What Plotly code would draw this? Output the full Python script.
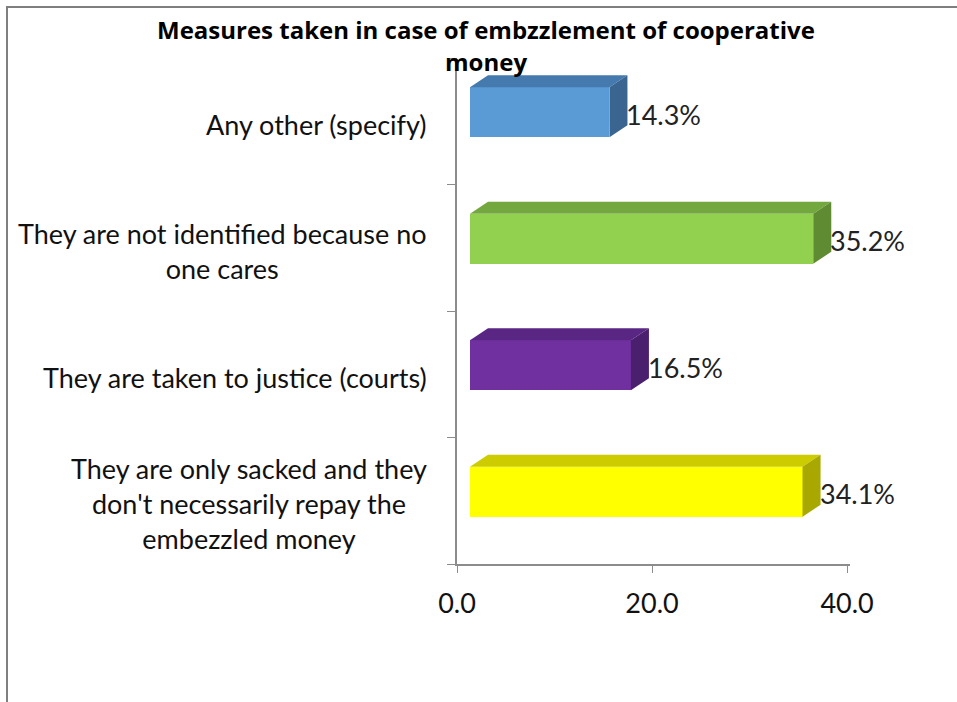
import plotly.graph_objects as go

# Survey responses, listed bottom-to-top as drawn on the category axis
categories = [
    "They are only sacked and they<br>don't necessarily repay the<br>embezzled money",
    "They are taken to justice (courts)",
    "They are not identified because no<br>one cares",
    "Any other (specify)",
]
values = [34.1, 16.5, 35.2, 14.3]
x_ticks = [0, 20, 40]
x_tick_labels = ["0.0", "20.0", "40.0"]
title_lines = ["Measures taken in case of embzzlement of cooperative", "money"]

front_colors = ["#FFFF00", "#7030A0", "#92D050", "#5B9BD5"]
top_colors = ["#CCCC00", "#5A2684", "#73A83E", "#457AAE"]
side_colors = ["#A8A800", "#4A1F6E", "#5F8C32", "#3A6591"]

FONT = "Lato"
TITLE_FONT = "Open Sans"
AXIS_GREY = "#8C8C8C"

# plot area in pixels
W, H = 957, 702
L, R, T, B = 457, 107, 58, 138
PLOT_H = H - T - B

# pseudo-3D bar geometry (data units)
X_OFF = 1.33      # gap between the wall and the bar front
DEPTH_X = 1.85    # depth of the bar, horizontal
DEPTH_Y = 0.095   # depth of the bar, vertical
BAR_H = 0.395     # thickness of the bar front
BAR_LIFT = 0.071  # bar front sits slightly above the category centre

positions = list(range(len(categories)))

fig = go.Figure()

for i, (pos, v) in enumerate(zip(positions, values)):
    x0 = X_OFF
    x1 = X_OFF + v
    yc = pos + BAR_LIFT
    yb = yc - BAR_H / 2
    yt = yc + BAR_H / 2
    # top face
    fig.add_trace(go.Scatter(
        x=[x0, x0 + DEPTH_X, x1 + DEPTH_X, x1, x0],
        y=[yt, yt + DEPTH_Y, yt + DEPTH_Y, yt, yt],
        fill="toself", fillcolor=top_colors[i], mode="lines",
        line=dict(width=0), hoverinfo="skip", showlegend=False,
    ))
    # side face
    fig.add_trace(go.Scatter(
        x=[x1, x1, x1 + DEPTH_X, x1 + DEPTH_X, x1],
        y=[yb, yt, yt + DEPTH_Y, yb + DEPTH_Y, yb],
        fill="toself", fillcolor=side_colors[i], mode="lines",
        line=dict(width=0), hoverinfo="skip", showlegend=False,
    ))

# front faces
fig.add_trace(go.Bar(
    x=values, y=[p + BAR_LIFT for p in positions], base=X_OFF,
    orientation="h", width=BAR_H,
    marker=dict(color=front_colors, line=dict(width=0)),
    showlegend=False, hoverinfo="x",
))

annotations = []
# value labels
for pos, v in zip(positions, values):
    annotations.append(dict(
        x=X_OFF + v + DEPTH_X, y=pos + BAR_LIFT, xref="x", yref="y",
        text=f"{v:.1f}%", showarrow=False, xanchor="left", yanchor="middle",
        xshift=-3, yshift=-2, font=dict(family=FONT, size=27, color="#222222"),
    ))
# category labels: block right-aligned, lines centred
for pos, cat in zip(positions, categories):
    annotations.append(dict(
        x=0, y=pos, xref="paper", yref="y", text=cat, showarrow=False,
        xanchor="right", yanchor="middle", align="center", xshift=-28,
        yshift=-3, font=dict(family=FONT, size=27, color="#111111"),
    ))
# two-line bold title, tightly spaced
for line, py in zip(title_lines, [29, 62]):
    annotations.append(dict(
        x=(486 - L) / (W - L - R), y=(H - B - py) / PLOT_H,
        xref="paper", yref="paper", text=f"<b>{line}</b>", showarrow=False,
        xanchor="center", yanchor="middle",
        font=dict(family=TITLE_FONT, size=24, color="#000000"),
    ))

fig.update_layout(
    width=W, height=H,
    margin=dict(l=L, r=R, t=T, b=B),
    paper_bgcolor="white", plot_bgcolor="white",
    annotations=annotations,
    bargap=0,
    xaxis=dict(
        range=[0, 40.3], tickvals=x_ticks, ticktext=x_tick_labels,
        showgrid=False, zeroline=False, showline=True, linecolor=AXIS_GREY,
        linewidth=2, ticks="outside", ticklen=7, tickcolor=AXIS_GREY,
        tickwidth=1, ticklabelstandoff=8,
        tickfont=dict(family=FONT, size=27, color="#111111"),
        fixedrange=True,
    ),
    yaxis=dict(
        range=[-0.5, 3.5], showticklabels=False, showgrid=False,
        zeroline=False, showline=True, linecolor=AXIS_GREY, linewidth=2,
        ticks="", tickvals=positions,
        minor=dict(tickvals=[-0.5, 0.5, 1.5, 2.5, 3.5], ticks="outside",
                   ticklen=8, tickcolor=AXIS_GREY, tickwidth=1,
                   showgrid=False),
        fixedrange=True,
    ),
    shapes=[dict(
        type="path", xref="paper", yref="paper",
        path=f"M {(7 - L) / (W - L - R)} -0.5 L {(7 - L) / (W - L - R)} "
             f"{(H - B - 7) / PLOT_H} L 1.6 {(H - B - 7) / PLOT_H}",
        line=dict(color="#7F7F7F", width=2),
    )],
)

fig.write_html("out.html")
